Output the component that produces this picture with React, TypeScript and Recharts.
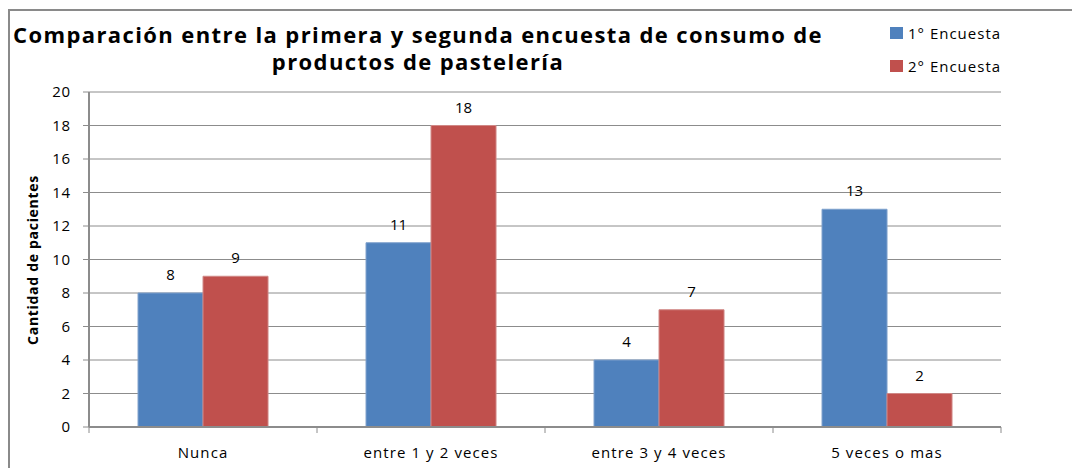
import React from "react";
import { BarChart, Bar, XAxis, YAxis, CartesianGrid, LabelList } from "recharts";

const categories = ["Nunca", "entre 1 y 2 veces", "entre 3 y 4 veces", "5 veces o mas"];
const encuesta1 = [8, 11, 4, 13];
const encuesta2 = [9, 18, 7, 2];
const yTicks = [0, 2, 4, 6, 8, 10, 12, 14, 16, 18, 20];
const seriesNames = ["1° Encuesta", "2° Encuesta"];
const titleLines = ["Comparación entre la primera y segunda encuesta de consumo de", "productos de pastelería"];
const yLabel = "Cantidad de pacientes";

const data = categories.map((c, i) => ({ name: c, e1: encuesta1[i], e2: encuesta2[i] }));

const FONT = "'Open Sans', Lato, sans-serif";
const GRID = "#8c8c8c";
const BLUE = "#4F81BD";
const RED = "#C0504D";

const W = 1072;
const H = 468;
const M = { top: 92, right: 71, bottom: 11, left: 0 };
const Y_W = 89;
const X_H = 30;
const plotW = W - M.left - M.right - Y_W;
const band = plotW / categories.length;

const XTick = (props: any) => {
  const { x, y, payload, index } = props;
  const ay = y - 8;
  return (
    <g>
      {index === 0 && <line x1={x - band / 2} x2={x - band / 2} y1={ay} y2={ay + 6} stroke={GRID} />}
      <line x1={x + band / 2} x2={x + band / 2} y1={ay} y2={ay + 6} stroke={GRID} />
      <text x={x} y={ay + 31} textAnchor="middle" fontSize={15} fill="#000" fontFamily={FONT} style={{ letterSpacing: "1.1px" }}>
        {payload.value}
      </text>
    </g>
  );
};

export default function App() {
  return (
    <div style={{ position: "absolute", left: 0, top: 0, width: W, height: H, overflow: "hidden", background: "#fff" }}>
      <div style={{ position: "absolute", left: 8, top: 9, width: 1100, height: 500, border: "2px solid #8a8a8a", boxSizing: "border-box" }} />
      <BarChart
        width={W}
        height={H}
        data={data}
        margin={M}
        barCategoryGap="21.5%"
        barGap={0}
        style={{ position: "absolute", left: 0, top: 0 }}
      >
        <CartesianGrid vertical={false} stroke={GRID} strokeWidth={1} />
        <XAxis
          dataKey="name"
          height={X_H}
          axisLine={{ stroke: GRID, strokeWidth: 2 }}
          tickLine={false}
          tick={<XTick />}
          interval={0}
        />
        <YAxis
          width={Y_W}
          domain={[0, 20]}
          ticks={yTicks}
          interval={0}
          axisLine={{ stroke: GRID, strokeWidth: 2 }}
          tickLine={{ stroke: GRID }}
          tickSize={6}
          tick={{ fontSize: 15, fill: "#000", fontFamily: FONT, style: { letterSpacing: "0.8px" } }}
          tickMargin={12}
        />
        <Bar dataKey="e1" name={seriesNames[0]} fill={BLUE} stroke="#7ea0cc" strokeWidth={1} isAnimationActive={false}>
          <LabelList dataKey="e1" position="top" offset={13} fontSize={15} fill="#000" fontFamily={FONT} />
        </Bar>
        <Bar dataKey="e2" name={seriesNames[1]} fill={RED} stroke="#d08886" strokeWidth={1} isAnimationActive={false}>
          <LabelList dataKey="e2" position="top" offset={13} fontSize={15} fill="#000" fontFamily={FONT} />
        </Bar>
      </BarChart>
      <div
        style={{
          position: "absolute",
          left: 0,
          top: 21,
          width: 836,
          textAlign: "center",
          fontFamily: FONT,
          fontWeight: 700,
          fontSize: 22,
          lineHeight: "27px",
          letterSpacing: "1.4px",
          color: "#000",
        }}
      >
        <div>{titleLines[0]}</div>
        <div>{titleLines[1]}</div>
      </div>
      <div
        style={{
          position: "absolute",
          left: 14,
          top: 260,
          transform: "translate(-50%, -50%) rotate(-90deg)",
          transformOrigin: "center",
          marginLeft: 18,
          whiteSpace: "nowrap",
          fontFamily: FONT,
          fontWeight: 700,
          fontSize: 14,
          letterSpacing: "0.7px",
          color: "#000",
        }}
      >
        {yLabel}
      </div>
      {seriesNames.map((n, i) => (
        <div
          key={n}
          style={{
            position: "absolute",
            left: 890,
            top: 22 + i * 33,
            display: "flex",
            alignItems: "center",
            fontFamily: FONT,
            fontSize: 15,
            letterSpacing: "1px",
            color: "#000",
            height: 22,
          }}
        >
          <span style={{ display: "inline-block", width: 13, height: 12, background: i === 0 ? BLUE : RED, marginRight: 5 }} />
          {n}
        </div>
      ))}
    </div>
  );
}
